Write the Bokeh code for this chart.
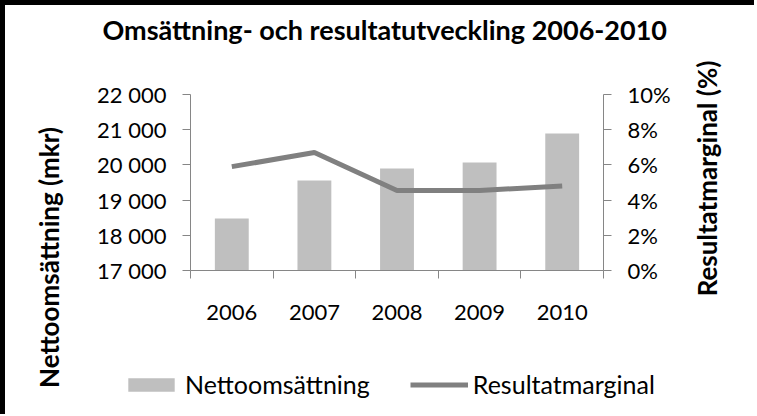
import math
from bokeh.plotting import figure
from bokeh.layouts import row, column
from bokeh.models import (LinearAxis, Range1d, FixedTicker, CustomJSTickFormatter,
                          NumeralTickFormatter, Legend, LegendItem, Title, Label)
from bokeh.embed import file_html
from bokeh.resources import INLINE

years = ["2006", "2007", "2008", "2009", "2010"]
nettoomsattning = [18480, 19560, 19900, 20070, 20890]
resultatmarginal = [0.059, 0.067, 0.0455, 0.0455, 0.048]
left_ticks = [17000, 18000, 19000, 20000, 21000, 22000]
right_ticks = [0.0, 0.02, 0.04, 0.06, 0.08, 0.10]
title_text = "Omsättning- och resultatutveckling 2006-2010"
left_title = "Nettoomsättning (mkr)"
right_title = "Resultatmarginal (%)"
bar_name = "Nettoomsättning"
line_name = "Resultatmarginal"

FONT = "Lato"
AXIS_COLOR = "#868686"
BAR_COLOR = "#BFBFBF"
LINE_COLOR = "#808080"

W_L, W_M, W_R = 82, 596, 71
H_ALL = 408

xpos = list(range(1, len(years) + 1))


def blank(w, h):
    f = figure(width=w, height=h, x_range=Range1d(0, w), y_range=Range1d(0, h),
               x_axis_type=None, y_axis_type=None, output_backend="svg",
               toolbar_location=None, min_border=0, title=None)
    f.outline_line_color = None
    f.grid.visible = False
    return f


# ---- main chart ----
p = figure(frame_width=413, frame_height=176,
           x_range=Range1d(0.5, len(years) + 0.5),
           y_range=Range1d(left_ticks[0], left_ticks[-1]),
           output_backend="svg", toolbar_location=None,
           min_border_left=103, min_border_right=80,
           min_border_top=0, min_border_bottom=H_ALL - 88 - 176,
           title=None)
p.outline_line_color = None
p.xgrid.visible = False
p.ygrid.visible = False

p.add_layout(Title(text=" ", text_font_size="1px", standoff=41), "above")
p.add_layout(Title(text=title_text, text_font=FONT, text_font_size="27px",
                   text_font_style="bold", align="left", offset=-88, standoff=10,
                   text_color="black"), "above")

p.extra_y_ranges = {"pct": Range1d(right_ticks[0], right_ticks[-1])}

p.vbar(x=xpos, top=nettoomsattning, bottom=left_ticks[0], width=0.41,
       color=BAR_COLOR, line_color=None)
p.line(x=xpos, y=resultatmarginal, y_range_name="pct",
       line_color=LINE_COLOR, line_width=5)

xa = p.xaxis[0]
xa.ticker = FixedTicker(ticks=xpos, minor_ticks=[i + 0.5 for i in range(len(years) + 1)])
xa.major_label_overrides = {i: y for i, y in zip(xpos, years)}
xa.major_tick_out = 0
xa.major_tick_in = 0
xa.minor_tick_out = 8
xa.minor_tick_in = 0
xa.major_label_standoff = 26

ya = p.yaxis[0]
ya.ticker = FixedTicker(ticks=left_ticks)
ya.formatter = CustomJSTickFormatter(
    code="return tick.toFixed(0).replace(/\\B(?=(\\d{3})+(?!\\d))/g, ' ')")
ya.major_tick_out = 8
ya.major_tick_in = 0
ya.minor_tick_out = 0
ya.minor_tick_in = 0
ya.major_label_standoff = 16

ra = LinearAxis(y_range_name="pct", ticker=FixedTicker(ticks=right_ticks),
                formatter=NumeralTickFormatter(format="0%"))
ra.major_tick_out = 8
ra.major_tick_in = 0
ra.minor_tick_out = 0
ra.minor_tick_in = 0
ra.major_label_standoff = 16
p.add_layout(ra, "right")

for ax in [xa, ya, ra]:
    ax.axis_line_color = AXIS_COLOR
    ax.major_tick_line_color = AXIS_COLOR
    ax.minor_tick_line_color = AXIS_COLOR
    ax.major_label_text_font = FONT
    ax.major_label_text_font_size = "22px"
    ax.major_label_text_color = "black"

# ---- left axis title ----
pl = blank(W_L, H_ALL)
pl.add_layout(Label(x=43, y=156, text=left_title, angle=math.pi / 2,
                    text_align="center", text_baseline="middle", text_font=FONT,
                    text_font_size="26px", text_font_style="bold", text_color="black"))

# ---- right axis title ----
pr = blank(W_R, H_ALL)
pr.add_layout(Label(x=23, y=235, text=right_title, angle=math.pi / 2,
                    text_align="center", text_baseline="middle", text_font=FONT,
                    text_font_size="26px", text_font_style="bold", text_color="black"))

layout = row(pl, column(p), pr)
layout.styles = {"border-top": "5px solid black", "border-left": "5px solid black"}

# ---- legend strip, placed over the empty band under the x axis ----
pg = blank(560, 40)
pg.background_fill_alpha = 0
pg.border_fill_alpha = 0
lb = pg.vbar(x=[-1000], top=[-1000], bottom=-1001, width=0.4,
             color=BAR_COLOR, line_color=None)
ll = pg.line(x=[-1000, -999], y=[-1000, -1000], line_color=LINE_COLOR, line_width=5)
legend = Legend(items=[LegendItem(label=bar_name, renderers=[lb]),
                       LegendItem(label=line_name, renderers=[ll])],
                orientation="horizontal", location=(12, 5))
legend.label_text_font = FONT
legend.label_text_font_size = "25px"
legend.label_text_color = "black"
legend.glyph_width = 58
legend.glyph_height = 17
legend.spacing = 40
legend.label_standoff = 5
legend.padding = 0
legend.margin = 0
legend.border_line_color = None
legend.background_fill_alpha = 0
pg.add_layout(legend)
pg.styles = {"position": "absolute", "left": "110px", "top": "364px"}

open("out.html", "w").write(file_html([layout, pg], INLINE))
